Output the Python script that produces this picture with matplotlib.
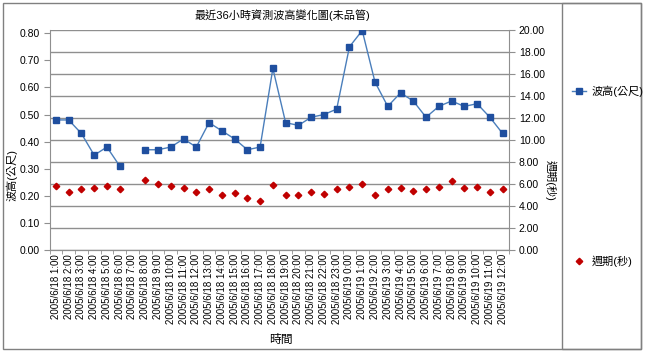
import numpy as np
import matplotlib
matplotlib.use('Agg')
import matplotlib.pyplot as plt
from matplotlib.lines import Line2D
from matplotlib.patches import Rectangle

plt.rcParams['font.family'] = ['Liberation Sans', 'Noto Sans CJK TC', 'DejaVu Sans']

# 36 hourly readings, 2005/6/18 1:00 .. 2005/6/19 12:00 (7:00 missing)
hours = [f'2005/6/18 {h}:00' for h in range(1, 24)] + [f'2005/6/19 {h}:00' for h in range(0, 13)]

wave_height = [0.48, 0.48, 0.43, 0.35, 0.38, 0.31, np.nan, 0.37, 0.37, 0.38,
               0.41, 0.38, 0.47, 0.44, 0.41, 0.37, 0.38, 0.67, 0.47, 0.46,
               0.49, 0.50, 0.52, 0.75, 0.81, 0.62, 0.53, 0.58, 0.55, 0.49,
               0.53, 0.55, 0.53, 0.54, 0.49, 0.43]

period = [5.8, 5.3, 5.5, 5.6, 5.8, 5.5, np.nan, 6.4, 6.0, 5.8,
          5.6, 5.3, 5.5, 5.0, 5.2, 4.7, 4.5, 5.9, 5.0, 5.0,
          5.3, 5.1, 5.5, 5.7, 6.0, 5.0, 5.5, 5.6, 5.4, 5.5,
          5.7, 6.3, 5.6, 5.7, 5.3, 5.5]

title = '最近36小時資測波高變化圖(未品管)'
W, H = 645, 351

fig = plt.figure(figsize=(W / 100, H / 100), dpi=100)
ax = fig.add_axes([49.5 / W, 1 - 250 / H, (509 - 49.5) / W, 220 / H])
ax2 = ax.twinx()

x = np.arange(len(hours))
grid_c = '#8f8f8f'

# gridlines follow the secondary axis
ax2.set_ylim(0, 20)
ax2.set_yticks(np.arange(0, 20.1, 2))
ax2.set_yticklabels([f'{v:.2f}' for v in np.arange(0, 20.1, 2)])
ax2.grid(True, axis='y', color=grid_c, lw=1)
ax2.set_axisbelow(True)

ax.set_ylim(0, 0.812)
ax.set_yticks(np.arange(0, 0.81, 0.1))
ax.set_yticklabels([f'{v:.2f}' for v in np.arange(0, 0.81, 0.1)])
ax.set_xlim(-0.5, len(hours) - 0.5)
ax.set_zorder(ax2.get_zorder() + 1)
ax.patch.set_visible(False)

ax.plot(x, wave_height, color='#4a7ebb', lw=1, marker='s', ms=3.8,
        mfc='#1f4f9f', mec='#1f4f9f', zorder=5)
ax2.plot(x, period, ls='none', marker='D', ms=3.3, mfc='#c00000', mec='#c00000')

ax.set_xticks(x)
ax.set_xticklabels(hours, rotation=90, fontsize=7)
ax.set_xticks(np.arange(-0.5, len(hours), 1), minor=True)
ax.tick_params(axis='x', which='major', length=0, pad=3)
ax.tick_params(axis='x', which='minor', length=3, color=grid_c)
ax.tick_params(axis='y', labelsize=7.5, length=4, color=grid_c, pad=3)
ax2.tick_params(axis='y', labelsize=7.5, length=4, color=grid_c, pad=3)

for a in (ax, ax2):
    a.spines['top'].set_visible(False)
    for s in ('left', 'right', 'bottom'):
        a.spines[s].set_color(grid_c)
ax.spines['right'].set_visible(False)
ax2.spines['left'].set_visible(False)

fig.text(282 / W, 1 - 15 / H, title, ha='center', va='center', fontsize=8)
fig.text(12 / W, 1 - 175 / H, '波高(公尺)', rotation=90, ha='center', va='center', fontsize=8)
fig.text(550 / W, 1 - 180 / H, '週期(秒)', rotation=270, ha='center', va='center', fontsize=8)
fig.text(281 / W, 1 - 340 / H, '時間', ha='center', va='center', fontsize=8.5)

# legend entries
h1 = Line2D([], [], color='#4a7ebb', lw=1, marker='s', ms=3.8, mfc='#1f4f9f', mec='#1f4f9f')
h2 = Line2D([], [], ls='none', marker='D', ms=3.3, mfc='#c00000', mec='#c00000')
fig.legend([h1], ['波高(公尺)'], loc='center left', bbox_to_anchor=(562 / W, 1 - 91 / H),
           frameon=False, fontsize=8, handlelength=1.3, handletextpad=0.5)
fig.legend([h2], ['週期(秒)'], loc='center left', bbox_to_anchor=(562 / W, 1 - 261 / H),
           frameon=False, fontsize=8, handlelength=1.3, handletextpad=0.5)

# outer chart frame and legend box
fig.patches.append(Rectangle((2.5 / W, 2.5 / H), (641 - 2.5) / W, (348.5 - 2.5) / H,
                             transform=fig.transFigure, fill=False, ec='#808080', lw=1))
fig.patches.append(Rectangle((561.5 / W, 2.5 / H), (641 - 561.5) / W, (348.5 - 2.5) / H,
                             transform=fig.transFigure, fill=False, ec='#808080', lw=1))

fig.savefig('out.png', dpi=100)
